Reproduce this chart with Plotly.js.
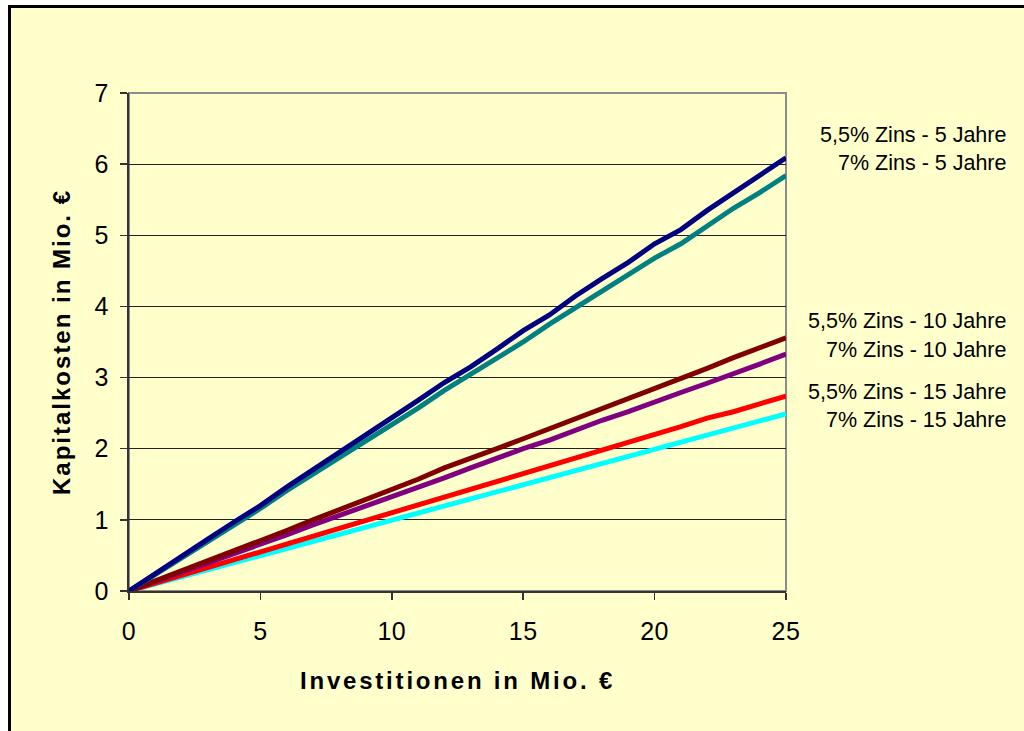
<!DOCTYPE html>
<html>
<head>
<meta charset="utf-8">
<script src="https://cdn.plot.ly/plotly-3.0.1.min.js"></script>
<style>
  html, body { margin: 0; padding: 0; background: #ffffff; overflow: hidden; }
  #frame {
    position: absolute; left: 8px; top: 5px; width: 1100px; height: 800px;
    background: #FFFFCC; border: 3px solid #000000;
  }
  #chart { position: absolute; left: 0; top: 0; width: 1024px; height: 731px; }
  #chart .xtitle { letter-spacing: 2.8px; }
  #chart .ytitle { letter-spacing: 2px; }
  #chart .xtick text, #chart .ytick text { letter-spacing: 0.5px; }
</style>
</head>
<body>
<div id="frame"></div>
<div id="chart"></div>
<script>
// Investment volume in Mio. € (x axis)
const investitionen = [0,1,2,3,4,5,6,7,8,9,10,11,12,13,14,15,16,17,18,19,20,21,22,23,24,25];

// Annual capital cost in Mio. € per financing variant
const zins55_5J  = [0,0.25,0.48,0.73,0.97,1.2,1.46,1.7,1.96,2.2,2.43,2.68,2.93,3.15,3.4,3.66,3.88,4.15,4.39,4.62,4.88,5.08,5.35,5.6,5.83,6.09];
const zins7_5J   = [0,0.23,0.47,0.71,0.94,1.16,1.41,1.64,1.87,2.12,2.34,2.57,2.82,3.04,3.27,3.5,3.75,3.98,4.2,4.45,4.68,4.88,5.14,5.38,5.6,5.84];
const zins55_10J = [0,0.14,0.28,0.43,0.57,0.7,0.85,1.0,1.14,1.28,1.42,1.57,1.73,1.86,2.0,2.14,2.28,2.42,2.57,2.71,2.85,2.99,3.13,3.28,3.42,3.56];
const zins7_10J  = [0,0.13,0.26,0.4,0.52,0.66,0.79,0.93,1.06,1.19,1.33,1.46,1.59,1.73,1.87,2.0,2.12,2.26,2.4,2.52,2.66,2.79,2.92,3.05,3.19,3.33];
const zins55_15J = [0,0.11,0.22,0.33,0.43,0.55,0.66,0.77,0.88,0.99,1.1,1.21,1.32,1.43,1.53,1.65,1.76,1.87,1.98,2.09,2.2,2.31,2.43,2.52,2.63,2.74];
const zins7_15J  = [0,0.1,0.2,0.3,0.4,0.5,0.6,0.7,0.8,0.9,1.0,1.1,1.2,1.3,1.39,1.49,1.59,1.69,1.8,1.89,2.0,2.09,2.19,2.3,2.39,2.49];

const serienNamen = [
  "5,5% Zins - 5 Jahre",
  "7% Zins - 5 Jahre",
  "5,5% Zins - 10 Jahre",
  "7% Zins - 10 Jahre",
  "5,5% Zins - 15 Jahre",
  "7% Zins - 15 Jahre"
];
const serienWerte = [zins55_5J, zins7_5J, zins55_10J, zins7_10J, zins55_15J, zins7_15J];
const serienFarben = ["#000080", "#008080", "#800000", "#800080", "#FF0000", "#00FFFF"];

const xTicks = [0, 5, 10, 15, 20, 25];
const yTicks = [0, 1, 2, 3, 4, 5, 6, 7];

const FONT = "Arial, 'Liberation Sans', sans-serif";

// draw lower series first so the upper line of each pair sits on top
const drawOrder = [5, 4, 3, 2, 1, 0];
const traces = drawOrder.map(i => ({
  type: "scatter",
  mode: "lines",
  name: serienNamen[i],
  x: investitionen,
  y: serienWerte[i],
  line: { color: serienFarben[i], width: 5, shape: "linear" },
  hoverinfo: "skip"
}));

// series names placed at the right of the plot, one per line end
const labelPixelY = [135, 163, 321, 350, 392, 420];
const plotTop = 93, plotBottom = 591, plotLeft = 129, plotRight = 786;
const annotations = serienNamen.map((name, i) => ({
  text: name,
  xref: "paper", yref: "paper",
  x: (1008 - plotLeft) / (plotRight - plotLeft),
  y: (plotBottom - labelPixelY[i]) / (plotBottom - plotTop),
  xanchor: "right", yanchor: "middle",
  showarrow: false,
  font: { family: FONT, size: 21.5, color: "#000000" }
}));

const layout = {
  width: 1024,
  height: 731,
  margin: { l: plotLeft, r: 1024 - plotRight, t: plotTop, b: 731 - plotBottom, pad: 0 },
  paper_bgcolor: "rgba(0,0,0,0)",
  plot_bgcolor: "rgba(0,0,0,0)",
  showlegend: false,
  font: { family: FONT, color: "#000000" },
  xaxis: {
    range: [0, 25],
    tickmode: "array",
    tickvals: xTicks,
    ticktext: xTicks.map(String),
    ticks: "outside", ticklen: 7, tickwidth: 1.5, tickcolor: "#333333",
    tickfont: { family: FONT, size: 25, color: "#000000" },
    ticklabelstandoff: 10,
    showline: true, linecolor: "#333333", linewidth: 2,
    showgrid: false, zeroline: false,
    fixedrange: true,
    automargin: false,
    title: { text: "Investitionen in Mio. €", font: { family: FONT, size: 24, weight: "bold", color: "#000000" }, standoff: 28 }
  },
  yaxis: {
    range: [0, 7],
    tickmode: "array",
    tickvals: yTicks,
    ticktext: yTicks.map(String),
    ticks: "outside", ticklen: 7, tickwidth: 1.5, tickcolor: "#333333",
    tickfont: { family: FONT, size: 25, color: "#000000" },
    ticklabelstandoff: 6,
    showline: true, linecolor: "#333333", linewidth: 2,
    showgrid: true, gridcolor: "#222222", gridwidth: 1,
    zeroline: false,
    fixedrange: true,
    automargin: false,
    title: { text: "Kapitalkosten in Mio. €", font: { family: FONT, size: 24, weight: "bold", color: "#000000" }, standoff: 18 }
  },
  shapes: [{
    type: "rect", xref: "paper", yref: "paper",
    x0: 0, x1: 1, y0: 0, y1: 1,
    line: { color: "#8c8c8c", width: 2 },
    fillcolor: "rgba(0,0,0,0)",
    layer: "between"
  }],
  annotations: annotations
};

Plotly.newPlot("chart", traces, layout, { staticPlot: true, displayModeBar: false });
</script>
</body>
</html>
